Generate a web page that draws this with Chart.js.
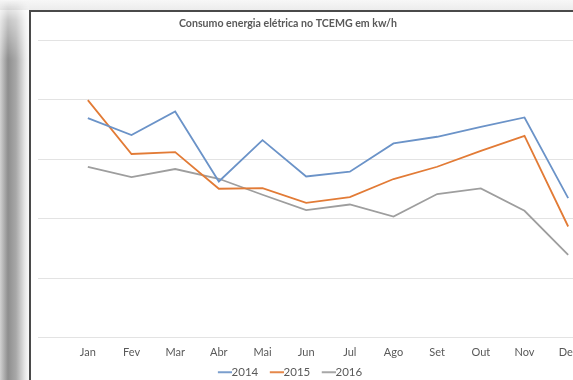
<!DOCTYPE html>
<html>
<head>
<meta charset="utf-8">
<script src="https://cdn.jsdelivr.net/npm/chart.js@4/dist/chart.umd.min.js"></script>
<style>
  html, body { margin: 0; padding: 0; width: 573px; height: 380px; overflow: hidden; background: #fff; position: relative; }
  #topshade { position: absolute; left: 0; top: 0; width: 573px; height: 10px; background: linear-gradient(to bottom, #f7f7f7, #ececec); }
  #leftshade { position: absolute; left: 0; top: 0; width: 29px; height: 380px;
    background: linear-gradient(to right, #d2d2d2 0px, #8e8e8e 8px, #a8a8a8 16px, #e6e6e6 25px, #fafafa 29px);
    -webkit-mask-image: linear-gradient(to bottom, transparent 0px, rgba(0,0,0,0.5) 20px, #000 60px);
    mask-image: linear-gradient(to bottom, transparent 0px, rgba(0,0,0,0.5) 20px, #000 60px); }
  #frame { position: absolute; left: 29px; top: 10px; width: 600px; height: 400px; background: #fff;
    border-left: 2px solid #4a4a4a; border-top: 2px solid #4a4a4a; }
  #wrap { position: absolute; left: 32px; top: 12px; width: 560px; height: 388px; }
</style>
</head>
<body>
<div id="topshade"></div>
<div id="leftshade"></div>
<div id="frame"></div>
<div id="wrap"><canvas id="c"></canvas></div>
<script>
const titleText = 'Consumo energia elétrica no TCEMG em kw/h';
const months = ['Jan','Fev','Mar','Abr','Mai','Jun','Jul','Ago','Set','Out','Nov','Dez'];
const seriesNames = ['2014','2015','2016'];
const values2014 = [184600,170300,190200,131300,166100,135500,139500,163300,168900,177300,185100,117400];
const values2015 = [199700,154400,156000,125200,125800,113400,118200,133400,143700,157100,169700,93500];
const values2016 = [143700,135000,141800,133600,120200,107300,112000,101900,120800,125500,106700,69700];
const yTicks = [0,50000,100000,150000,200000,250000];

const colors = ['#6b93c8','#e27b36','#9e9e9e'];
const font = 'Lato, "Open Sans", sans-serif';

// legend marker: short line, drawn in the right part of a small canvas
function legendMarker(color) {
  const c = document.createElement('canvas');
  c.width = 20; c.height = 4;
  const g = c.getContext('2d');
  g.strokeStyle = color; g.lineWidth = 1.8;
  g.beginPath(); g.moveTo(6, 2); g.lineTo(20, 2); g.stroke();
  return c;
}

const blockShift = {
  id: 'blockShift',
  afterLayout(chart) {
    const lg = chart.legend;
    if (lg) { lg.left -= 24; lg.right -= 24; lg.top -= 12; lg.bottom -= 12; }
    const tb = chart.titleBlock;
    if (tb) { tb.left -= 26; tb.right -= 26; }
  }
};

new Chart(document.getElementById('c'), {
  type: 'line',
  data: {
    labels: months,
    datasets: [values2014, values2015, values2016].map((v, i) => ({
      label: seriesNames[i],
      data: v,
      borderColor: colors[i],
      backgroundColor: colors[i],
      borderWidth: 1.8,
      pointRadius: 0,
      pointStyle: legendMarker(colors[i]),
      tension: 0,
      fill: false
    }))
  },
  options: {
    responsive: true,
    maintainAspectRatio: false,
    animation: false,
    layout: { padding: { left: 6, right: 2, top: 0, bottom: 0 } },
    plugins: {
      title: {
        display: true,
        text: titleText,
        color: '#595959',
        font: { family: font, size: 10.6, weight: 'bold' },
        padding: { top: 5, bottom: 10.5 }
      },
      legend: {
        position: 'bottom',
        labels: {
          color: '#595959',
          font: { family: font, size: 11.5 },
          usePointStyle: true,
          pointStyleWidth: 8,
          padding: 11.5,
          boxHeight: 10
        }
      },
      tooltip: { enabled: false }
    },
    scales: {
      x: {
        offset: true,
        grid: { display: false, drawTicks: false },
        border: { display: false },
        ticks: { color: '#595959', font: { family: font, size: 11 }, padding: 8, maxRotation: 0, autoSkip: false }
      },
      y: {
        min: yTicks[0],
        max: yTicks[yTicks.length - 1],
        afterBuildTicks: s => { s.ticks = yTicks.map(v => ({ value: v })); },
        afterFit: s => { s.width = 28; },
        grid: { color: '#e3e3e3', lineWidth: 1, drawTicks: true, tickLength: 28 },
        border: { display: false },
        ticks: { display: false }
      }
    }
  },
  plugins: [blockShift]
});
</script>
</body>
</html>
